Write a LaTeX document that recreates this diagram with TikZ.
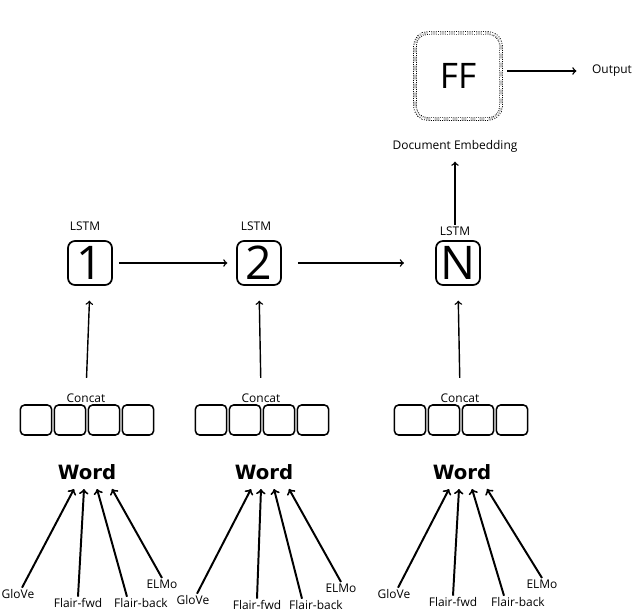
\documentclass[tikz,border=0pt]{standalone}
\usepackage{fontspec}
\setmainfont{Open Sans}
\newfontfamily\wordfont{DejaVu Sans}
\usepackage{tikz}
\usetikzlibrary{positioning}
\usetikzlibrary{calc}
\tikzset{
	lstmnode/.style={rectangle, rounded corners=5pt, draw, line width=1.2pt, minimum size=1.1cm, inner sep=0pt, font=\fontsize{33}{33}\selectfont},
	ffnode/.style={rectangle, rounded corners=9pt, draw, densely dotted, double, double distance=1.3pt, line width=0.6pt, minimum size=2.15cm, font=\fontsize{25}{25}\selectfont}
}
\tikzset{
	catnode/.style={rectangle, rounded corners=3pt, draw, line width=1.1pt, minimum width=0.78cm, minimum height=0.75cm},
	smalltext/.style={inner sep=1pt, font=\fontsize{8.5}{9}\selectfont},
	wordtext/.style={inner sep=1pt, font=\wordfont\bfseries\fontsize{14}{15}\selectfont},
	arr/.style={->, line width=1pt},
	wordarr/.style={->, line width=1.4pt}
}

\begin{document}
\begin{tikzpicture}[x=0.025cm, y=-0.025cm]
		\useasboundingbox (0,0) rectangle (642,612);
		
		\node[ffnode] at (458,76) (ff)     {FF};
		\node[smalltext] at (612,71) (out)     {Output};
		\node[smalltext] at (455,146) (doc)     {Document Embedding};
		
		\node[lstmnode] at (90,263) (l1)    {1};
		\node[lstmnode] at (259,263) (l2)    {2};
		\node[lstmnode] at (458,263) (lN)    {N};
		\node[smalltext] at (85,226) (t1)    {LSTM};
		\node[smalltext] at (256,226) (t2)    {LSTM};
		\node[smalltext] at (455,231) (tN)    {LSTM};
		
		%concat boxes
		\foreach \i/\cx in {1/87, 2/262, 3/461}{
			\node[smalltext] at (\cx-1,398) (c\i)    {Concat};
			\foreach \j/\dx in {1/-51, 2/-17, 3/17, 4/51}
				\node[catnode] at (\cx+\dx,420) (c\i\j) {};
		}
		
		%words
		\node[wordtext] at (87,472) (w1)    {Word};
		\node[wordtext] at (264,472) (w2)    {Word};
		\node[wordtext] at (462,472) (w3)    {Word};
		
		%text
		\node[smalltext] at (18,594) (g1)    {GloVe};
		\node[smalltext] at (78,603) (f1)    {Flair-fwd};
		\node[smalltext] at (141,603) (b1)    {Flair-back};
		\node[smalltext] at (162,584) (e1)    {ELMo};
		\node[smalltext] at (193,600) (g2)    {GloVe};
		\node[smalltext] at (257,605) (f2)    {Flair-fwd};
		\node[smalltext] at (316,605) (b2)    {Flair-back};
		\node[smalltext] at (341,588) (e2)    {ELMo};
		\node[smalltext] at (394,594) (g3)    {GloVe};
		\node[smalltext] at (453,602) (f3)    {Flair-fwd};
		\node[smalltext] at (518,602) (b3)    {Flair-back};
		\node[smalltext] at (542,584) (e3)    {ELMo};
		
		%Lines
		\draw[arr, shorten <=0.15cm, shorten >=0.35cm] (ff.east |- out.west) -- (out.west);
		\draw[arr, shorten >=0.2cm] (tN.north) -- (doc.south);
		\draw[arr, shorten <=0.15cm, shorten >=0.22cm] (l1.east) -- (l2.west);
		\draw[arr, shorten <=0.4cm, shorten >=0.78cm] (l2.east) -- (lN.west);
		\draw[arr, shorten <=0.35cm, shorten >=0.37cm] (c1.north) -- (l1.south);
		\draw[arr, shorten <=0.35cm, shorten >=0.37cm] (c2.north) -- (l2.south);
		\draw[arr, shorten <=0.35cm, shorten >=0.37cm] (c3.north) -- (lN.south);
		
		\foreach \k in {1,2,3}{
			\draw[wordarr] ([xshift=0.1cm]g\k.north) -- ($(w\k)+(-13,17)$);
			\draw[wordarr] (f\k.north) -- ($(w\k)+(-3,17)$);
			\draw[wordarr] ([xshift=-0.35cm]b\k.north) -- ($(w\k)+(10,17)$);
			\draw[wordarr] (e\k.north) -- ($(w\k)+(25,17)$);
		}
		
	\end{tikzpicture}
\end{document}
